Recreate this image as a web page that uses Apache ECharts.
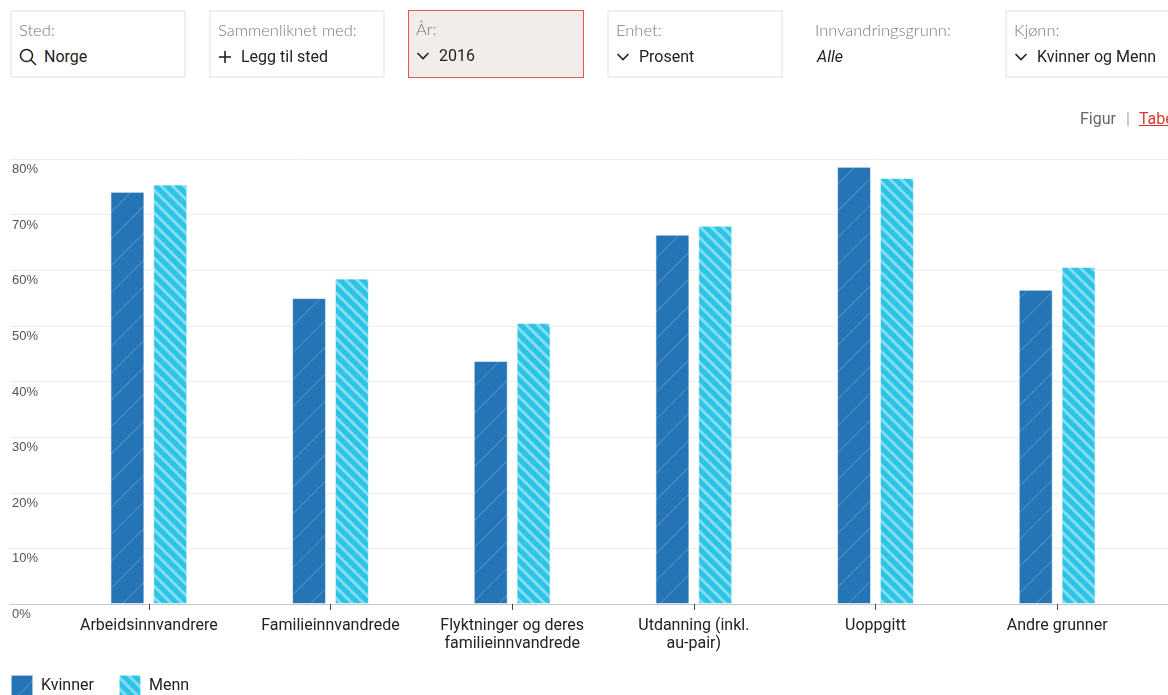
<!DOCTYPE html>
<html>
<head>
<meta charset="utf-8">
<script src="https://cdn.jsdelivr.net/npm/echarts@6/dist/echarts.min.js"></script>
<style>
  body { margin: 0; width: 1168px; height: 695px; overflow: hidden; background: #fff; position: relative; font-family: Roboto, sans-serif; }
  #main { position: absolute; left: 0; top: 0; width: 1168px; height: 695px; }
  .box { position: absolute; top: 10px; width: 176px; height: 68px; box-sizing: border-box; border: 2px solid #f1eeeb; background: #fff; }
  .box.active { border: 1px solid #e5574c; background: #f1edea; }
  .box.plain { border-color: transparent; }
  .lbl { position: absolute; left: 7px; top: 8px; font-family: Lato, sans-serif; font-weight: 300; font-size: 16.5px; color: #7a7a7a; }
  .val { position: absolute; left: 7px; top: 35px; font-size: 16px; color: #222; display: flex; align-items: center; gap: 9px; }
  .val svg { display: block; }
  .val svg.search { margin-right: -2px; }
  .figtab { position: absolute; top: 109px; left: 1080px; font-size: 16px; color: #666; white-space: nowrap; }
  .figtab .sep { color: #aaa; margin: 0 9px 0 10px; }
  .figtab .tab { color: #d93a30; text-decoration: underline; }
</style>
</head>
<body>
<div id="main"></div>

<div class="box" style="left:10px"><div class="lbl">Sted:</div>
  <div class="val"><svg class="search" width="18" height="18" viewBox="0 0 18 18"><circle cx="7.5" cy="7.5" r="6" fill="none" stroke="#222" stroke-width="1.6"/><line x1="12" y1="12" x2="17" y2="17" stroke="#222" stroke-width="1.6"/></svg>Norge</div></div>
<div class="box" style="left:209px"><div class="lbl">Sammenliknet med:</div>
  <div class="val"><svg width="14" height="14" viewBox="0 0 14 14"><line x1="7" y1="1" x2="7" y2="13" stroke="#222" stroke-width="1.6"/><line x1="1" y1="7" x2="13" y2="7" stroke="#222" stroke-width="1.6"/></svg>Legg til sted</div></div>
<div class="box active" style="left:408px"><div class="lbl">År:</div>
  <div class="val"><svg width="14" height="10" viewBox="0 0 14 10"><polyline points="1.5,2 7,7.5 12.5,2" fill="none" stroke="#222" stroke-width="1.6"/></svg>2016</div></div>
<div class="box" style="left:607px"><div class="lbl">Enhet:</div>
  <div class="val"><svg width="14" height="10" viewBox="0 0 14 10"><polyline points="1.5,2 7,7.5 12.5,2" fill="none" stroke="#222" stroke-width="1.6"/></svg>Prosent</div></div>
<div class="box plain" style="left:806px"><div class="lbl">Innvandringsgrunn:</div>
  <div class="val" style="font-style:italic;left:9px">Alle</div></div>
<div class="box" style="left:1005px"><div class="lbl">Kjønn:</div>
  <div class="val"><svg width="14" height="10" viewBox="0 0 14 10"><polyline points="1.5,2 7,7.5 12.5,2" fill="none" stroke="#222" stroke-width="1.6"/></svg>Kvinner og Menn</div></div>

<div class="figtab">Figur<span class="sep">|</span><span class="tab">Tabell</span></div>

<script>
const categories = ['Arbeidsinnvandrere', 'Familieinnvandrede', 'Flyktninger og deres\nfamilieinnvandrede', 'Utdanning (inkl.\nau-pair)', 'Uoppgitt', 'Andre grunner'];
const kvinner = [74.1, 55.0, 43.7, 66.4, 78.6, 56.5];
const menn = [75.4, 58.5, 50.5, 68.0, 76.6, 60.6];
const yMin = 0, yMax = 80, yStep = 10;

var myChart = echarts.init(document.getElementById('main'));

var option = {
  animation: false,
  grid: [
    { left: 10, right: 0, top: 159, bottom: 91 },
    { left: 58, right: 20, top: 159, bottom: 91 }
  ],
  legend: {
    left: 10, top: 674, padding: 0,
    itemWidth: 22, itemHeight: 22, itemGap: 24,
    icon: 'rect',
    textStyle: { fontFamily: 'Roboto', fontSize: 16, color: '#222', padding: [0, 0, 0, 3] },
    data: ['Kvinner', 'Menn']
  },
  xAxis: [
    {
      gridIndex: 0, type: 'value', min: 0, max: 1,
      axisLabel: { show: false }, axisTick: { show: false }, splitLine: { show: false },
      axisLine: { show: true, lineStyle: { color: '#c6c6c6' } }
    },
    {
      gridIndex: 1, type: 'category', data: categories,
      axisLine: { show: false },
      axisTick: { show: true, interval: 0, alignWithLabel: true, length: 6, lineStyle: { color: '#444' } },
      axisLabel: { interval: 0, hideOverlap: false, fontFamily: 'Roboto', fontSize: 16, color: '#222', lineHeight: 18, margin: 13 }
    }
  ],
  yAxis: [
    {
      gridIndex: 0, type: 'value', min: yMin, max: yMax, interval: yStep,
      axisLine: { show: false }, axisTick: { show: false },
      axisLabel: { inside: true, margin: 2, formatter: '{value}%', verticalAlign: 'top', padding: [4, 0, 0, 0], fontFamily: 'Arial', fontSize: 13, color: '#555' },
      splitLine: { lineStyle: { color: '#eeeceb' } }
    },
    {
      gridIndex: 1, type: 'value', min: yMin, max: yMax, interval: yStep, show: false
    }
  ],
  series: [
    {
      name: 'Kvinner', type: 'bar', xAxisIndex: 1, yAxisIndex: 1,
      data: kvinner, barWidth: 34, barGap: '26%',
      itemStyle: {
        color: '#2574b5',
        borderColor: 'rgba(255,255,255,0.35)', borderWidth: 1,
        decal: { symbol: 'rect', symbolSize: 1, dashArrayX: [1, 0], dashArrayY: [1, 18], rotation: -Math.PI / 4, color: 'rgba(255,255,255,0.2)' }
      }
    },
    {
      name: 'Menn', type: 'bar', xAxisIndex: 1, yAxisIndex: 1,
      data: menn, barWidth: 34,
      itemStyle: {
        color: '#2bc3e6',
        borderColor: 'rgba(255,255,255,0.35)', borderWidth: 1,
        decal: { symbol: 'rect', symbolSize: 1, dashArrayX: [1, 0], dashArrayY: [2.5, 4.5], rotation: Math.PI / 4, color: 'rgba(255,255,255,0.42)' }
      }
    }
  ]
};

myChart.setOption(option);
</script>
</body>
</html>
